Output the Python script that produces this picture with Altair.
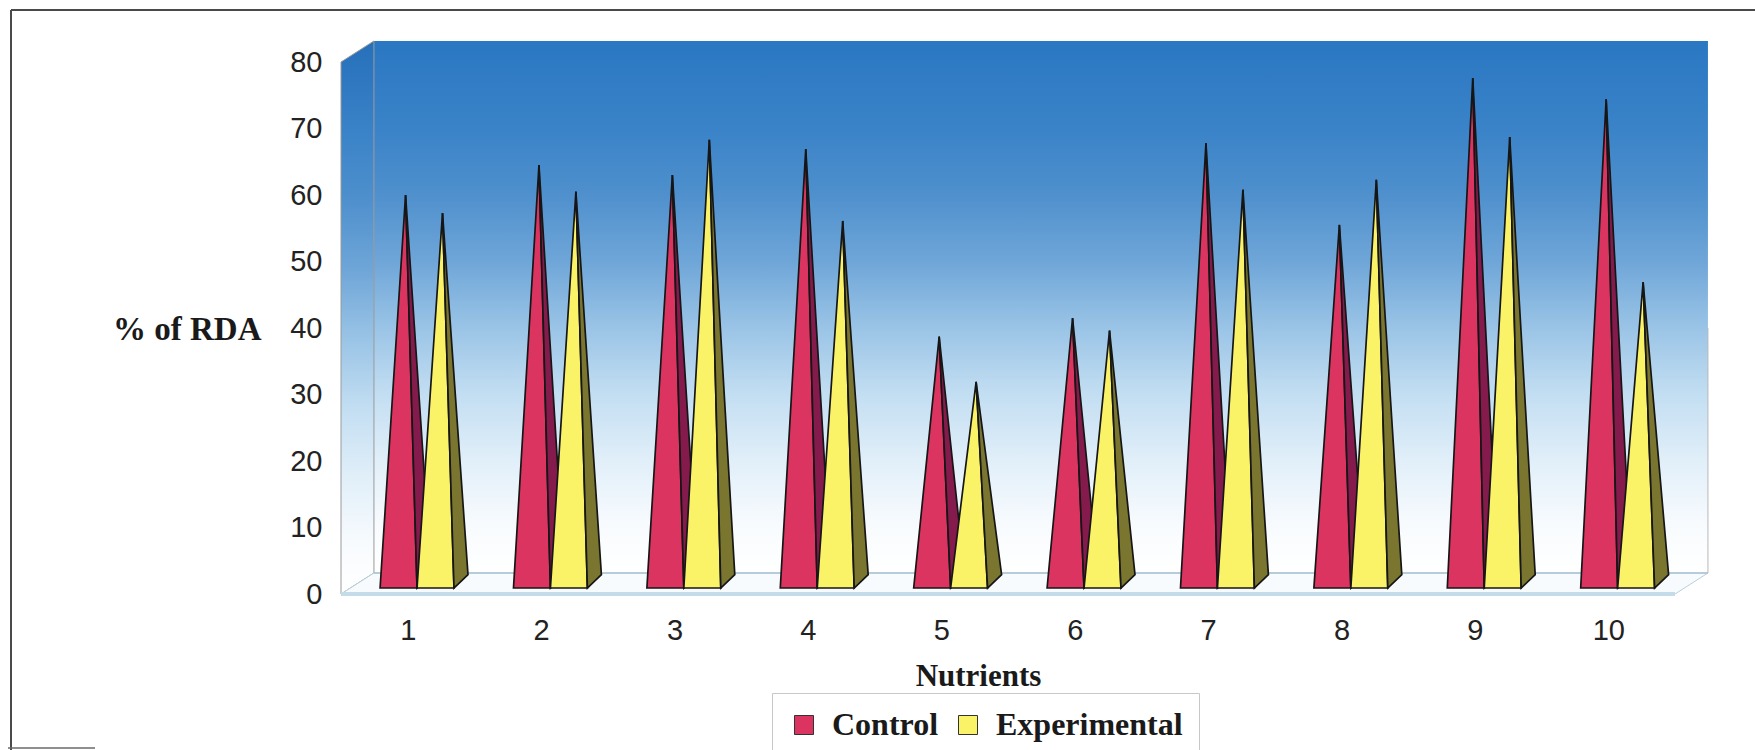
import altair as alt
import pandas as pd

# ---------------- data ----------------
nutrients = [1, 2, 3, 4, 5, 6, 7, 8, 9, 10]
control = [58.1, 62.6, 61.1, 65.0, 36.8, 39.6, 65.9, 53.6, 75.7, 72.5]
experimental = [55.4, 58.6, 66.4, 54.2, 30.0, 37.7, 58.9, 60.4, 66.8, 45.0]
series_names = ["Control", "Experimental"]
value_ticks = [0, 10, 20, 30, 40, 50, 60, 70, 80]

# ---------------- pseudo-3D geometry (x in category units, y in % of RDA) ----------------
X_MIN, X_MAX = 0.5, 10.5
Y_MIN, Y_MAX = 0, 80
BASE_W = 0.277                 # width of a pyramid base
FRONT_DX, FRONT_DY = 0.07, 0.9  # pyramid front plane, pushed back into the box
SIDE_DX, SIDE_DY = 0.105, 2.0   # depth of a pyramid base
WALL_DX, WALL_DY = 0.247, 3.16  # depth of the whole box

FRONT_COLORS = ["#DC3461", "#FBF367"]
SIDE_COLORS = ["#841B4C", "#7A762F"]
EDGE = "#161616"


def triangle(face, pts, **extra):
    """Area rows (x, upper y, lower y), sorted by x, that fill the triangle pts."""
    (x0, y0), (x1, y1), (x2, y2) = sorted(pts)
    t = (x1 - x0) / (x2 - x0)
    ym = y0 + (y2 - y0) * t
    rows = [
        dict(face=face, x=x0, y=y0, y2=y0),
        dict(face=face, x=x1, y=max(y1, ym), y2=min(y1, ym)),
        dict(face=face, x=x2, y=y2, y2=y2),
    ]
    for r in rows:
        r.update(extra)
    return rows


front_rows = {s: [] for s in series_names}
side_rows = {s: [] for s in series_names}
for i, n in enumerate(nutrients):
    for s_idx, (s, vals) in enumerate(zip(series_names, [control, experimental])):
        v = vals[i]
        xl = n + FRONT_DX + (s_idx - 1) * BASE_W
        xr = xl + BASE_W
        b = FRONT_DY
        ax = (xl + xr) / 2 + SIDE_DX / 2
        ay = v + FRONT_DY + SIDE_DY / 2
        front_rows[s] += triangle(f"{s}-{n}-f", [(xl, b), (xr, b), (ax, ay)],
                                  series=s, nutrient=n, value=v)
        side_rows[s] += triangle(f"{s}-{n}-s", [(xr, b), (xr + SIDE_DX, b + SIDE_DY), (ax, ay)],
                                 series=s, nutrient=n, value=v)

# ---------------- scales & axes ----------------
xs = alt.Scale(domain=[X_MIN, X_MAX], nice=False, zero=False)
ys = alt.Scale(domain=[Y_MIN, Y_MAX], nice=False, zero=False)

x_axis = alt.Axis(
    values=nutrients, format="d", grid=False, ticks=False, domain=False,
    labelFont="Liberation Sans", labelFontSize=29, labelColor="#222222", labelPadding=22,
    title="Nutrients", titleFont="Liberation Serif", titleFontWeight="bold",
    titleFontSize=31, titleColor="#1a1a1a", titleX=637, titleY=91,
    titleAlign="center", titleBaseline="alphabetic",
)
y_axis = alt.Axis(
    values=value_ticks, grid=False, ticks=False, domain=False,
    labelFont="Liberation Sans", labelFontSize=29, labelColor="#222222", labelPadding=19,
    title="% of RDA", titleFont="Liberation Serif", titleFontWeight="bold",
    titleFontSize=33, titleColor="#1a1a1a", titleAngle=0, titleAlign="right",
    titleBaseline="alphabetic", titleX=-80, titleY=277,
)

X = alt.X("x:Q", scale=xs, axis=x_axis)
Y = alt.Y("y:Q", scale=ys, axis=y_axis)


def wall_gradient(top):
    return alt.LinearGradient(
        gradient="linear", x1=0, x2=0, y1=1, y2=0,
        stops=[
            alt.GradientStop(offset=0.0, color="#FFFFFF"),
            alt.GradientStop(offset=0.09, color="#F8FBFE"),
            alt.GradientStop(offset=0.21, color="#E1EFF9"),
            alt.GradientStop(offset=0.335, color="#C3DEF2"),
            alt.GradientStop(offset=0.46, color="#9AC4E6"),
            alt.GradientStop(offset=0.585, color="#6FA6D8"),
            alt.GradientStop(offset=0.71, color="#4F90CD"),
            alt.GradientStop(offset=0.835, color="#3A83C8"),
            alt.GradientStop(offset=1.0, color=top),
        ],
    )


# back wall
back_wall = alt.Chart(pd.DataFrame([dict(
    x=X_MIN + WALL_DX, x2=X_MAX + WALL_DX, y=Y_MIN + WALL_DY, y2=Y_MAX + WALL_DY)])
).mark_rect(color=wall_gradient("#2A77C2")).encode(x=X, x2="x2:Q", y=Y, y2="y2:Q")

# left side wall
side_wall = alt.Chart(pd.DataFrame([
    dict(x=X_MIN, y=Y_MAX, y2=Y_MIN),
    dict(x=X_MIN + WALL_DX, y=Y_MAX + WALL_DY, y2=Y_MIN + WALL_DY),
])).mark_area(color=wall_gradient("#2670BB"), stroke="#9A9A9A", strokeWidth=1).encode(
    x=X, y=Y, y2="y2:Q")

# floor
floor = alt.Chart(pd.DataFrame([
    dict(x=X_MIN, y=Y_MIN, y2=Y_MIN),
    dict(x=X_MIN + WALL_DX, y=Y_MIN + WALL_DY, y2=Y_MIN),
    dict(x=X_MAX, y=Y_MIN + WALL_DY, y2=Y_MIN),
    dict(x=X_MAX + WALL_DX, y=Y_MIN + WALL_DY, y2=Y_MIN + WALL_DY),
])).mark_area(color="#F7FBFD", stroke="#B9CFDD", strokeWidth=1).encode(
    x=X, y=Y, y2="y2:Q")

floor_back = alt.Chart(pd.DataFrame([dict(x=X_MIN + WALL_DX, x2=X_MAX + WALL_DX, y=Y_MIN + WALL_DY)])
                       ).mark_rule(color="#A9C3D4", strokeWidth=1.5).encode(x=X, x2="x2:Q", y=Y)
floor_front = alt.Chart(pd.DataFrame([dict(x=X_MIN, x2=X_MAX, y=Y_MIN)])
                        ).mark_rule(color="#C4DCEA", strokeWidth=4).encode(x=X, x2="x2:Q", y=Y)
wall_right = alt.Chart(pd.DataFrame([dict(x=X_MAX + WALL_DX, y=Y_MIN + WALL_DY, y2=40)])
                       ).mark_rule(color="#B8B8B8", strokeWidth=1).encode(x=X, y=Y, y2="y2:Q")

color_enc = alt.Color(
    "series:N",
    scale=alt.Scale(domain=series_names, range=FRONT_COLORS),
    legend=alt.Legend(
        title=None, orient="none", legendX=431, legendY=631, direction="horizontal",
        symbolType="square", symbolSize=361, symbolStrokeColor="#333333",
        symbolStrokeWidth=1, symbolOpacity=1, labelLimit=400,
        labelFont="Liberation Serif", labelFontWeight="bold", labelFontSize=32,
        labelColor="#1a1a1a", labelOffset=12, columnPadding=13, padding=16,
        strokeColor="#C8C8C8", fillColor="#FFFFFF",
    ),
)

pyramid_layers = []
for s_idx, s in enumerate(series_names):
    front = alt.Chart(pd.DataFrame(front_rows[s])).mark_area(
        stroke=EDGE, strokeWidth=1.7, opacity=1
    ).encode(x=X, y=Y, y2="y2:Q", detail="face:N", color=color_enc)
    side = alt.Chart(pd.DataFrame(side_rows[s])).mark_area(
        color=SIDE_COLORS[s_idx], stroke=EDGE, strokeWidth=1.7, opacity=1
    ).encode(x=X, y=Y, y2="y2:Q", detail="face:N")
    pyramid_layers += [front, side]

# outer frame of the figure (pixel offsets from the plot origin)
frame_df = pd.DataFrame({"k": [0]})
frame_top = alt.Chart(frame_df).mark_rule(color="#4a4a4a", strokeWidth=2).encode(
    x=alt.value(-330), x2=alt.value(1414), y=alt.value(-52))
frame_left = alt.Chart(frame_df).mark_rule(color="#4a4a4a", strokeWidth=2).encode(
    x=alt.value(-330), y=alt.value(-52), y2=alt.value(688))
frame_bottom = alt.Chart(frame_df).mark_rule(color="#6a6a6a", strokeWidth=1.5).encode(
    x=alt.value(-333), x2=alt.value(-246), y=alt.value(686))

chart = alt.layer(
    back_wall, side_wall, floor, floor_back, floor_front, wall_right,
    *pyramid_layers, frame_top, frame_left, frame_bottom,
).properties(
    width=1334, height=532,
    padding={"left": 341, "top": 62, "right": 80, "bottom": 156},
    autosize=alt.AutoSizeParams(type="none"),
    background="#FFFFFF",
).configure_view(strokeWidth=0)

chart.save("out.html", embed_options={"renderer": "svg", "actions": False})
